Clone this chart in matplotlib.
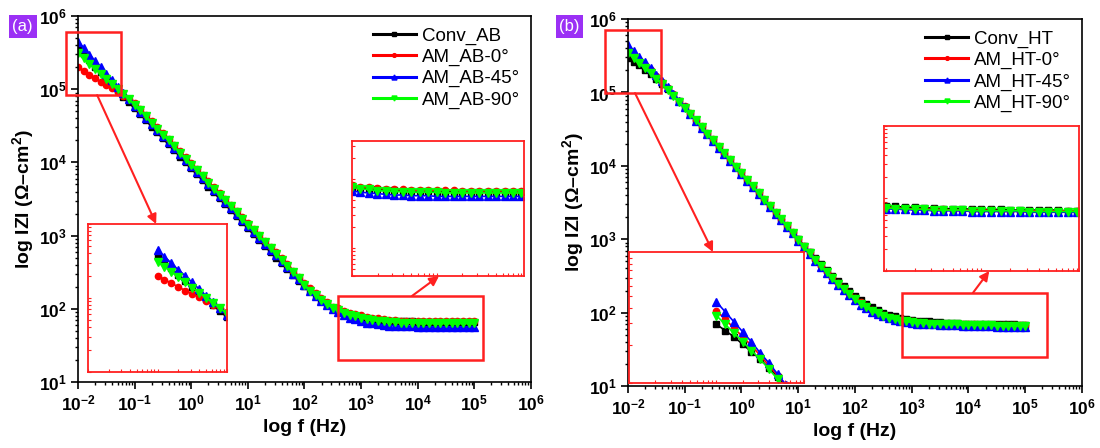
import numpy as np
import matplotlib
matplotlib.use('Agg')
import matplotlib.pyplot as plt
from matplotlib.patches import Rectangle
from matplotlib.ticker import LogLocator, FuncFormatter, NullFormatter

plt.rcParams['font.family'] = ['Liberation Sans', 'DejaVu Sans']
plt.rcParams['mathtext.fontset'] = 'custom'
plt.rcParams['mathtext.rm'] = 'Liberation Sans'
plt.rcParams['mathtext.bf'] = 'Liberation Sans:bold'
plt.rcParams['mathtext.it'] = 'Liberation Sans:italic'

# frequency sweep, log10(f / Hz), 10 points per decade
log_f = [-2.0, -1.9, -1.8, -1.7, -1.6, -1.5, -1.4, -1.3, -1.2, -1.1,
         -1.0, -0.9, -0.8, -0.7, -0.6, -0.5, -0.4, -0.3, -0.2, -0.1,
         0.0, 0.1, 0.2, 0.3, 0.4, 0.5, 0.6, 0.7, 0.8, 0.9,
         1.0, 1.1, 1.2, 1.3, 1.4, 1.5, 1.6, 1.7, 1.8, 1.9,
         2.0, 2.1, 2.2, 2.3, 2.4, 2.5, 2.6, 2.7, 2.8, 2.9,
         3.0, 3.1, 3.2, 3.3, 3.4, 3.5, 3.6, 3.7, 3.8, 3.9,
         4.0, 4.1, 4.2, 4.3, 4.4, 4.5, 4.6, 4.7, 4.8, 4.9, 5.0]

# log10 |Z| (ohm cm^2), as-built samples
conv_ab = [5.56, 5.48, 5.40, 5.31, 5.23, 5.15, 5.07, 4.99, 4.90, 4.82,
           4.74, 4.66, 4.58, 4.49, 4.41, 4.33, 4.25, 4.17, 4.08, 4.00,
           3.92, 3.84, 3.76, 3.67, 3.59, 3.51, 3.43, 3.35, 3.27, 3.19,
           3.10, 3.02, 2.94, 2.86, 2.78, 2.70, 2.62, 2.55, 2.46, 2.38,
           2.31, 2.24, 2.17, 2.11, 2.05, 2.01, 1.97, 1.94, 1.92, 1.90,
           1.88, 1.87, 1.86, 1.85, 1.84, 1.84, 1.83, 1.83, 1.83, 1.83,
           1.82, 1.82, 1.82, 1.82, 1.82, 1.82, 1.82, 1.82, 1.82, 1.82, 1.82]
am_ab_0 = [5.30, 5.25, 5.20, 5.15, 5.10, 5.06, 5.01, 4.96, 4.91, 4.86,
           4.81, 4.73, 4.65, 4.56, 4.48, 4.40, 4.32, 4.24, 4.15, 4.07,
           3.99, 3.91, 3.83, 3.74, 3.66, 3.58, 3.50, 3.42, 3.34, 3.25,
           3.17, 3.09, 3.01, 2.93, 2.85, 2.77, 2.69, 2.61, 2.52, 2.44,
           2.35, 2.28, 2.21, 2.15, 2.09, 2.03, 2.01, 1.97, 1.94, 1.93,
           1.91, 1.89, 1.88, 1.87, 1.86, 1.85, 1.85, 1.84, 1.84, 1.84,
           1.84, 1.84, 1.84, 1.83, 1.83, 1.83, 1.83, 1.83, 1.83, 1.83, 1.83]
am_ab_45 = [5.65, 5.56, 5.47, 5.38, 5.30, 5.21, 5.12, 5.03, 4.95, 4.86,
            4.77, 4.69, 4.61, 4.52, 4.44, 4.36, 4.28, 4.20, 4.11, 4.03,
            3.95, 3.87, 3.79, 3.70, 3.62, 3.54, 3.46, 3.38, 3.30, 3.21,
            3.13, 3.05, 2.97, 2.89, 2.81, 2.73, 2.65, 2.57, 2.48, 2.41,
            2.32, 2.25, 2.18, 2.11, 2.05, 2.00, 1.96, 1.91, 1.88, 1.86,
            1.83, 1.81, 1.80, 1.79, 1.78, 1.77, 1.77, 1.76, 1.76, 1.76,
            1.75, 1.75, 1.75, 1.75, 1.75, 1.75, 1.75, 1.75, 1.75, 1.75, 1.75]
am_ab_90 = [5.49, 5.42, 5.35, 5.28, 5.21, 5.14, 5.07, 5.00, 4.93, 4.86,
            4.79, 4.71, 4.63, 4.54, 4.46, 4.38, 4.30, 4.22, 4.13, 4.05,
            3.97, 3.89, 3.81, 3.72, 3.64, 3.56, 3.48, 3.40, 3.32, 3.23,
            3.15, 3.07, 2.99, 2.91, 2.83, 2.75, 2.67, 2.59, 2.50, 2.42,
            2.33, 2.25, 2.19, 2.12, 2.06, 2.01, 1.98, 1.94, 1.91, 1.90,
            1.88, 1.86, 1.85, 1.83, 1.83, 1.82, 1.82, 1.81, 1.81, 1.81,
            1.81, 1.80, 1.80, 1.80, 1.80, 1.80, 1.80, 1.80, 1.80, 1.80, 1.80]

# log10 |Z| (ohm cm^2), heat-treated samples
conv_ht = [5.47, 5.42, 5.37, 5.31, 5.25, 5.19, 5.12, 5.05, 4.97, 4.89,
           4.80, 4.71, 4.62, 4.53, 4.44, 4.35, 4.26, 4.17, 4.08, 3.99,
           3.90, 3.81, 3.72, 3.63, 3.54, 3.45, 3.36, 3.27, 3.18, 3.09,
           3.00, 2.91, 2.83, 2.74, 2.66, 2.58, 2.50, 2.43, 2.36, 2.29,
           2.23, 2.17, 2.12, 2.07, 2.03, 2.00, 1.97, 1.95, 1.93, 1.91,
           1.90, 1.89, 1.88, 1.88, 1.87, 1.87, 1.86, 1.86, 1.86, 1.85,
           1.85, 1.85, 1.85, 1.84, 1.84, 1.84, 1.84, 1.84, 1.84, 1.83, 1.83]
am_ht_0 = [5.58, 5.51, 5.44, 5.37, 5.30, 5.22, 5.14, 5.06, 4.98, 4.89,
           4.81, 4.72, 4.63, 4.54, 4.45, 4.36, 4.27, 4.18, 4.09, 4.00,
           3.91, 3.82, 3.73, 3.64, 3.55, 3.46, 3.37, 3.28, 3.19, 3.10,
           3.00, 2.91, 2.82, 2.73, 2.64, 2.56, 2.48, 2.40, 2.33, 2.26,
           2.20, 2.14, 2.09, 2.04, 2.00, 1.97, 1.94, 1.92, 1.90, 1.89,
           1.88, 1.87, 1.86, 1.86, 1.85, 1.85, 1.85, 1.84, 1.84, 1.84,
           1.84, 1.84, 1.83, 1.83, 1.83, 1.83, 1.83, 1.83, 1.83, 1.83, 1.83]
am_ht_45 = [5.65, 5.57, 5.49, 5.41, 5.33, 5.24, 5.16, 5.07, 4.98, 4.89,
            4.80, 4.70, 4.61, 4.52, 4.43, 4.34, 4.25, 4.16, 4.07, 3.98,
            3.89, 3.80, 3.71, 3.62, 3.53, 3.44, 3.35, 3.26, 3.17, 3.08,
            2.98, 2.89, 2.80, 2.71, 2.62, 2.54, 2.46, 2.38, 2.31, 2.24,
            2.17, 2.11, 2.06, 2.01, 1.98, 1.95, 1.92, 1.90, 1.88, 1.87,
            1.86, 1.85, 1.85, 1.84, 1.84, 1.83, 1.83, 1.83, 1.83, 1.82,
            1.82, 1.82, 1.82, 1.82, 1.82, 1.81, 1.81, 1.81, 1.81, 1.81, 1.81]
am_ht_90 = [5.54, 5.47, 5.40, 5.33, 5.26, 5.19, 5.11, 5.03, 4.95, 4.87,
            4.79, 4.71, 4.62, 4.53, 4.44, 4.35, 4.26, 4.17, 4.08, 3.99,
            3.90, 3.81, 3.72, 3.63, 3.54, 3.45, 3.36, 3.27, 3.18, 3.09,
            2.99, 2.90, 2.81, 2.72, 2.63, 2.55, 2.47, 2.39, 2.32, 2.25,
            2.18, 2.12, 2.07, 2.02, 1.99, 1.96, 1.93, 1.91, 1.89, 1.88,
            1.87, 1.86, 1.86, 1.85, 1.85, 1.84, 1.84, 1.84, 1.84, 1.83,
            1.83, 1.83, 1.83, 1.83, 1.83, 1.82, 1.82, 1.82, 1.82, 1.82, 1.82]

labels_ab = ['Conv_AB', 'AM_AB-0°', 'AM_AB-45°', 'AM_AB-90°']
labels_ht = ['Conv_HT', 'AM_HT-0°', 'AM_HT-45°', 'AM_HT-90°']

colors = ['black', '#ff0000', '#0000ff', '#00ff00']
markers = ['s', 'o', '^', 'v']
msizes = [4.5, 4.5, 6, 6]
freq = 10.0 ** np.array(log_f)
box_red = '#ff2020'


def decade_label(v, pos):
    return r'$\mathbf{10^{%d}}$' % int(round(np.log10(v)))


def plot_curves(ax, curves, labels=None, lw=1.5):
    for i, z in enumerate(curves):
        ax.plot(freq, 10.0 ** np.array(z), color=colors[i], marker=markers[i],
                ms=msizes[i], lw=lw, label=labels[i] if labels else None)


def main_panel(ax, curves, labels):
    plot_curves(ax, curves, labels)
    ax.set_xscale('log')
    ax.set_yscale('log')
    ax.set_xlim(1e-2, 1e6)
    ax.set_ylim(1e1, 1e6)
    for axis in (ax.xaxis, ax.yaxis):
        axis.set_major_locator(LogLocator(base=10, numticks=20))
        axis.set_minor_locator(LogLocator(base=10, subs=np.arange(2, 10), numticks=20))
        axis.set_major_formatter(FuncFormatter(decade_label))
        axis.set_minor_formatter(NullFormatter())
    ax.tick_params(which='major', direction='out', length=5, width=1.2,
                   labelsize=12.5, pad=3, top=False, right=False)
    ax.tick_params(which='minor', direction='out', length=2.5, width=1.0,
                   top=False, right=False)
    for s in ax.spines.values():
        s.set_linewidth(1.2)
    ax.set_xlabel('log f (Hz)', fontsize=14, fontweight='bold', labelpad=4)
    ax.set_ylabel(r'log IZI (Ω–cm$^\mathbf{2}$)', fontsize=14, fontweight='bold', labelpad=2)
    leg = ax.legend(loc='upper right', frameon=False, fontsize=13.5, handlelength=2.3,
                    handletextpad=0.3, labelspacing=0.22, borderaxespad=0.2,
                    markerscale=0.6)
    for h in leg.legend_handles:
        h.set_linewidth(2.2)


def inset_panel(fig, rect, curves, xlim, ylim):
    ins = fig.add_axes(rect)
    plot_curves(ins, curves, lw=1.2)
    ins.set_xscale('log')
    ins.set_yscale('log')
    ins.set_xlim(*xlim)
    ins.set_ylim(*ylim)
    for s in ins.spines.values():
        s.set_color(box_red)
        s.set_linewidth(1.3)
    ins.tick_params(which='both', direction='in', colors=box_red, length=2,
                    width=0.8, labelleft=False, labelbottom=False)
    ins.xaxis.set_minor_formatter(NullFormatter())
    ins.yaxis.set_minor_formatter(NullFormatter())
    return ins


def zoom_box(ax, x0, x1, y0, y1):
    ax.add_patch(Rectangle((x0, y0), x1 - x0, y1 - y0, fill=False,
                           ec=box_red, lw=1.8, clip_on=False, zorder=5))


def arrow(ax, start, end, target):
    ax.annotate('', xy=end, xycoords=target.transAxes, xytext=start,
                textcoords='data', annotation_clip=False,
                arrowprops=dict(arrowstyle='-|>', color=box_red, lw=1.5,
                                mutation_scale=14, shrinkA=0, shrinkB=0))


fig = plt.figure(figsize=(11, 4.48), dpi=100)
ax_a = fig.add_axes([0.0709, 0.1473, 0.4118, 0.817])
ax_b = fig.add_axes([0.5709, 0.1384, 0.4127, 0.819])

main_panel(ax_a, [conv_ab, am_ab_0, am_ab_45, am_ab_90], labels_ab)
main_panel(ax_b, [conv_ht, am_ht_0, am_ht_45, am_ht_90], labels_ht)

# (a) zoomed regions
zoom_box(ax_a, 0.0062, 0.0575, 8.3e4, 6.0e5)
zoom_box(ax_a, 393, 1.43e5, 20, 150)
ins_a1 = inset_panel(fig, [0.080, 0.1696, 0.1264, 0.3304],
                     [conv_ab, am_ab_0, am_ab_45, am_ab_90], (1e-3, 1e-1), (1e4, 1e6))
ins_a2 = inset_panel(fig, [0.320, 0.3839, 0.1564, 0.3013],
                     [conv_ab, am_ab_0, am_ab_45, am_ab_90], (1e3, 10 ** 5.03), (10 ** 0.6, 10 ** 2.55))
arrow(ax_a, (0.0218, 8.3e4), (0.49, 1.0), ins_a1)
arrow(ax_a, (7943, 150), (0.506, 0.0), ins_a2)

# (b) zoomed regions
zoom_box(ax_b, 0.00394, 0.038, 9.8e4, 7.2e5)
zoom_box(ax_b, 676, 2.4e5, 24.8, 186)
ins_b1 = inset_panel(fig, [0.5718, 0.1451, 0.1591, 0.2924],
                     [conv_ht, am_ht_0, am_ht_45, am_ht_90], (1e-3, 1e-1), (1e5, 10 ** 6.05))
ins_b2 = inset_panel(fig, [0.8036, 0.3951, 0.1773, 0.3237],
                     [conv_ht, am_ht_0, am_ht_45, am_ht_90], (10 ** 2.98, 10 ** 5.02), (1e1, 1e3))
arrow(ax_b, (0.0133, 9.8e4), (0.48, 1.0), ins_b1)
arrow(ax_b, (1.2e4, 186), (0.54, 0.0), ins_b2)

# panel tags
for x, tag in [(0.0205, '(a)'), (0.5177, '(b)')]:
    fig.text(x, 0.9408, tag, color='white', fontsize=12, ha='center', va='center',
             bbox=dict(boxstyle='square,pad=0.22', fc='#9b30f5', ec='none'))

fig.savefig('out.png', dpi=100)
